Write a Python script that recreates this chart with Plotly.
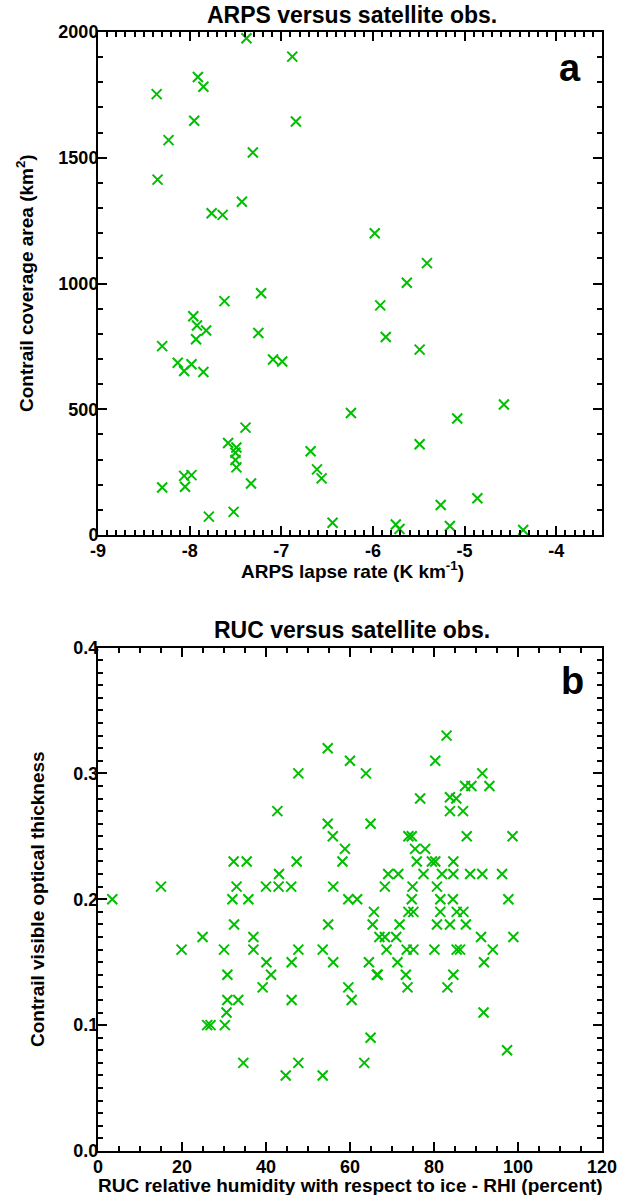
import plotly.graph_objects as go

# ---------------- Data: panel a (ARPS lapse rate vs contrail coverage area) -------------
arps_lapse_rate = [-7.38, -6.88, -7.91, -7.85, -8.36, -7.95, -6.84, -8.23, -7.31, -8.35,
                   -7.43, -7.76, -7.64, -5.98, -5.41, -5.63, -7.22, -7.62, -5.92, -7.96,
                   -7.92, -7.82, -7.25, -5.86, -7.93, -8.30, -5.49, -7.09, -6.99, -8.13,
                   -7.98, -8.06, -7.85, -4.57, -6.24, -5.08, -7.39, -7.58, -5.49, -7.49,
                   -6.68, -7.50, -7.50, -7.49, -6.61, -7.98, -8.06, -6.56, -7.33, -8.05,
                   -8.30, -4.86, -5.26, -7.52, -7.79, -6.44, -5.75, -5.16, -5.71, -4.36,
                   -7.40]
contrail_area = [1975, 1902, 1821, 1782, 1753, 1647, 1644, 1570, 1521, 1413,
                 1325, 1279, 1273, 1200, 1081, 1003, 961, 930, 913, 870,
                 833, 813, 803, 787, 778, 751, 737, 698, 690, 685,
                 679, 652, 648, 519, 485, 463, 427, 366, 361, 348,
                 333, 327, 298, 269, 261, 238, 235, 225, 205, 192,
                 189, 146, 119, 92, 73, 49, 42, 36, 24, 20,
                 -5]

# ---------------- Data: panel b (RUC RHI vs contrail optical thickness) -----------------
ruc_rhi = [54.7, 60.0, 47.7, 42.7, 54.7, 55.9, 58.8, 58.2, 32.3, 35.4, 47.3, 43.1,
           83.0, 80.3, 63.8, 91.5, 87.4, 88.9, 93.2, 76.7, 83.8, 85.3, 83.8, 86.9,
           64.9, 87.8, 98.7, 73.9, 74.7, 75.5, 77.9, 75.9, 79.5, 80.3, 84.6, 69.1,
           71.5, 77.5, 81.9, 84.6, 88.6, 91.5, 96.2, 68.3, 74.9, 80.7,
           3.4, 15.0, 33.0, 32.0, 35.8, 40.0, 43.0, 46.0, 56.0, 32.4, 54.8, 24.9,
           37.0, 19.9, 30.0, 37.0, 47.7, 53.5, 40.1, 46.1, 56.0, 30.8, 41.2, 39.2,
           30.8, 33.4, 46.1, 30.6, 26.0, 26.8, 30.2, 34.6, 44.7, 47.7, 53.5, 49.3,
           59.6, 61.7, 97.7, 65.7, 75.1, 73.9, 81.5, 84.5, 81.5, 74.7, 85.4, 87.0,
           80.7, 83.8, 87.6, 65.4, 71.8, 67.0, 68.3, 71.0, 91.2, 98.9, 68.7, 73.5,
           75.1, 80.1, 85.4, 86.2, 94.0, 64.5, 71.3, 91.9, 66.4, 66.6, 73.3, 84.6,
           59.6, 73.7, 83.2, 60.4, 91.8, 64.9, 97.4, 63.4]
optical_thickness = [0.32, 0.31, 0.30, 0.27, 0.26, 0.25, 0.24, 0.23, 0.23, 0.23, 0.23, 0.22,
                     0.33, 0.31, 0.30, 0.30, 0.29, 0.29, 0.29, 0.28, 0.281, 0.28, 0.27, 0.27,
                     0.26, 0.25, 0.25, 0.25, 0.25, 0.24, 0.24, 0.23, 0.23, 0.23, 0.23, 0.22,
                     0.22, 0.22, 0.22, 0.22, 0.22, 0.22, 0.22, 0.21, 0.21, 0.21,
                     0.20, 0.21, 0.21, 0.20, 0.20, 0.21, 0.21, 0.21, 0.21, 0.18, 0.18, 0.17,
                     0.17, 0.16, 0.16, 0.16, 0.16, 0.16, 0.15, 0.15, 0.15, 0.14, 0.14, 0.13,
                     0.12, 0.12, 0.12, 0.11, 0.10, 0.10, 0.10, 0.07, 0.06, 0.07, 0.06, -0.002,
                     0.20, 0.20, 0.20, 0.19, 0.19, 0.19, 0.19, 0.20, 0.20, 0.20, 0.19, 0.19,
                     0.18, 0.18, 0.18, 0.18, 0.18, 0.17, 0.17, 0.17, 0.17, 0.17, 0.16, 0.16,
                     0.16, 0.16, 0.16, 0.16, 0.16, 0.15, 0.15, 0.15, 0.14, 0.14, 0.14, 0.14,
                     0.13, 0.13, 0.13, 0.12, 0.11, 0.09, 0.08, 0.07]

# ---------------- Ticks -----------------
a_xtick_vals = [-9, -8, -7, -6, -5, -4]
a_xtick_text = ["-9", "-8", "-7", "-6", "-5", "-4"]
a_ytick_vals = [0, 500, 1000, 1500, 2000]
a_ytick_text = ["0", "500", "1000", "1500", "2000"]
b_xtick_vals = [0, 20, 40, 60, 80, 100, 120]
b_xtick_text = ["0", "20", "40", "60", "80", "100", "120"]
b_ytick_vals = [0.0, 0.1, 0.2, 0.3, 0.4]
b_ytick_text = ["0.0", "0.1", "0.2", "0.3", "0.4"]

GREEN = "rgb(0,190,0)"
FONT = "Liberation Sans, Arial, Helvetica, sans-serif"

W, H = 618, 1195
ML, MR, MT, MB = 98, 16, 32, 44
PW = W - ML - MR
PH = H - MT - MB


def px2x(px):
    return (px - ML) / PW


def py2y(py):
    return (H - MB - py) / PH


marker = dict(symbol="x-thin", size=10, color=GREEN, line=dict(width=2, color=GREEN))

fig = go.Figure()
fig.add_trace(go.Scatter(x=arps_lapse_rate, y=contrail_area, mode="markers",
                         marker=marker, cliponaxis=False, xaxis="x", yaxis="y",
                         showlegend=False))
fig.add_trace(go.Scatter(x=ruc_rhi, y=optical_thickness, mode="markers",
                         marker=marker, cliponaxis=False, xaxis="x2", yaxis="y2",
                         showlegend=False))

tickfont = dict(family=FONT, size=18, color="black", weight="bold")


def axis_common(minor_tick0, minor_dtick):
    return dict(showline=True, linecolor="black", linewidth=2, mirror="allticks",
                ticks="inside", ticklen=9, tickwidth=1.5, tickcolor="black",
                showgrid=False, zeroline=False, tickfont=tickfont, automargin=False,
                minor=dict(tickmode="linear", tick0=minor_tick0, dtick=minor_dtick,
                           ticks="inside", ticklen=5, tickwidth=1.5,
                           tickcolor="black", showgrid=False))


bot_a = py2y(535)
top_b = py2y(647.5)

fig.update_layout(
    width=W, height=H,
    margin=dict(l=ML, r=MR, t=MT, b=MB, autoexpand=False),
    paper_bgcolor="white", plot_bgcolor="white",
    xaxis=dict(domain=[0, 1], anchor="y", range=[-9, -3.5], tickmode="array",
               tickvals=a_xtick_vals, ticktext=a_xtick_text, ticklabelstandoff=-2,
               **axis_common(-9, 0.1)),
    yaxis=dict(domain=[bot_a, 1], anchor="x", range=[0, 2000], tickmode="array",
               tickvals=a_ytick_vals, ticktext=a_ytick_text, ticklabelstandoff=-6,
               **axis_common(0, 100)),
    xaxis2=dict(domain=[0, 1], anchor="y2", range=[0, 120], tickmode="array",
                tickvals=b_xtick_vals, ticktext=b_xtick_text, ticklabelstandoff=-2,
                **axis_common(0, 5)),
    yaxis2=dict(domain=[0, top_b], anchor="x2", range=[0, 0.4], tickmode="array",
                tickvals=b_ytick_vals, ticktext=b_ytick_text, ticklabelstandoff=-6,
                **axis_common(0, 0.01)),
)

ann = []


def add_text(text, px, py, size, angle=0):
    ann.append(dict(text=text, x=px2x(px), y=py2y(py), xref="paper", yref="paper",
                    xanchor="center", yanchor="middle", showarrow=False, textangle=angle,
                    font=dict(family=FONT, size=size, color="black", weight="bold")))


add_text("ARPS versus satellite obs.", 352, 15, 23)
add_text("RUC versus satellite obs.", 352, 630, 23)
add_text("a", 570, 68, 38)
add_text("b", 572, 681, 38)
add_text("ARPS lapse rate (K km<sup>-1</sup>)", 352, 570, 19)
add_text("RUC relative humidity with respect to ice - RHI (percent)", 350, 1185, 19)
add_text("Contrail coverage area (km<sup>2</sup>)", 25, 283, 19, -90)
add_text("Contrail visible optical thickness", 37, 899, 19, -90)

fig.update_layout(annotations=ann)

fig.write_html(
    "out.html",
    config={"displayModeBar": False},
    post_script="document.body.style.margin='0';document.body.style.overflow='hidden';",
)
